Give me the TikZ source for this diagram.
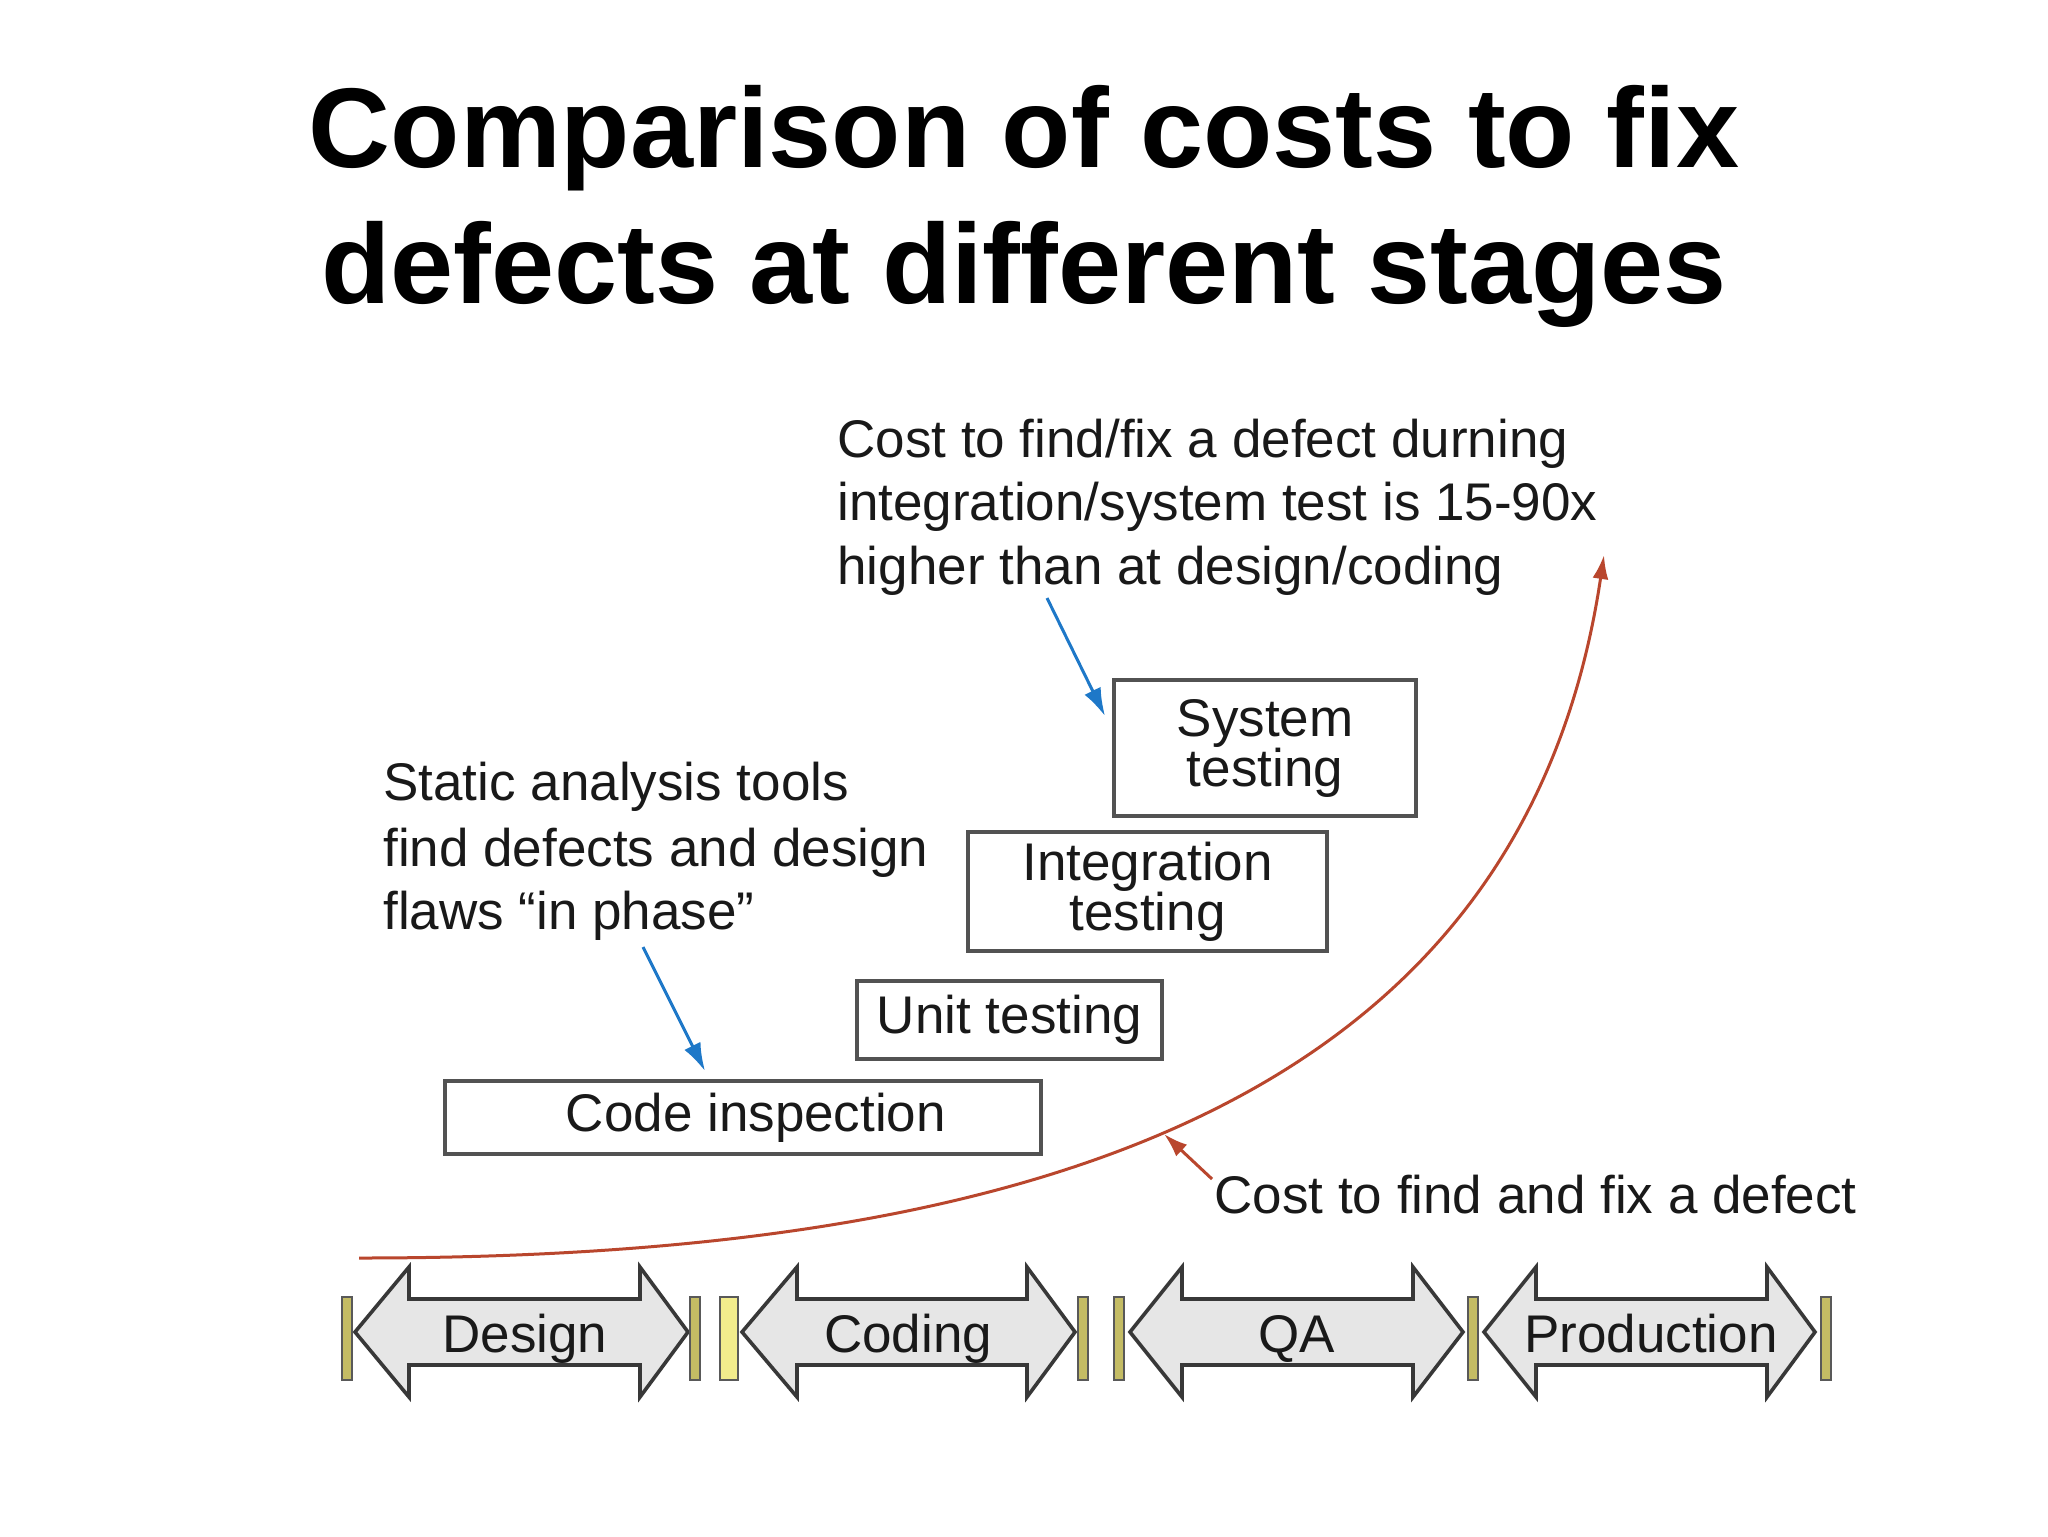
\documentclass[tikz,border=0pt]{standalone}
\usepackage{fontspec}
\setmainfont{Liberation Sans}
\usetikzlibrary{arrows.meta}
\definecolor{bluearr}{RGB}{30,120,200}
\definecolor{redcurve}{RGB}{185,70,45}
\definecolor{stagefill}{RGB}{230,230,230}
\definecolor{barolive}{RGB}{196,188,100}
\definecolor{barbright}{RGB}{242,236,140}
\definecolor{txt}{RGB}{25,25,25}
\tikzset{
  titletext/.style={font=\bfseries\fontsize{56.7}{68}\selectfont, anchor=base, inner sep=0pt},
  note/.style={font=\fontsize{26.5}{32}\selectfont, text=txt, anchor=base west, inner sep=0pt},
  stagebox/.style={draw=black!68, line width=2.2pt, fill=white, align=center,
    font=\fontsize{26.5}{25}\selectfont, text=txt, inner sep=0pt},
  stagearrow/.style={draw=black!78, line width=1.8pt, fill=stagefill, line join=miter},
  stagelabel/.style={font=\fontsize{26.5}{32}\selectfont, text=txt, anchor=base, inner sep=0pt},
  bluearrow/.style={draw=bluearr, line width=1.5pt, -{Latex[length=14pt,width=9pt]}},
  redarrow/.style={draw=redcurve, line width=1.5pt, -{Latex[length=12pt,width=8pt]}},
  bar/.style={draw=black!65, line width=1.1pt},
}
\begin{document}
\begin{tikzpicture}[x=0.5pt,y=-0.5pt]
\useasboundingbox[fill=white] (0,0) rectangle (2048,1536);

% title
\node[titletext] (title1) at (1024,167) {Comparison of costs to fix};
\node[titletext] (title2) at (1024,303) {defects at different stages};

% top annotation
\node[note] (topa) at (837,457) {Cost to find/fix a defect durning};
\node[note] (topb) at (837,520) {integration/system test is 15-90x};
\node[note] (topc) at (837,584) {higher than at design/coding};

% static analysis annotation
\node[note] (stata) at (383,800) {Static analysis tools};
\node[note] (statb) at (383,866) {find defects and design};
\node[note] (statc) at (383,929) {flaws “in phase”};

% activity boxes
\node[stagebox, minimum width=151pt, minimum height=68pt] (sys) at (1265,748) {System\\testing};
\node[stagebox, minimum width=179.5pt, minimum height=59.5pt] (integ) at (1147.5,891.5) {Integration\\testing};
\node[stagebox, minimum width=152.5pt, minimum height=39pt] (unit) at (1009.5,1020) {Unit testing};
\node[stagebox, minimum width=298pt, minimum height=36.5pt] (code) at (743,1117.5) {\hspace*{13pt}Code inspection};

% blue pointer arrows
\coordinate (topstart) at (1047,598);
\coordinate (topend) at (1105,716);
\coordinate (statstart) at (643,947);
\coordinate (statend) at (705,1071);
\draw[bluearrow] (topstart) -- (topend);
\draw[bluearrow] (statstart) -- (statend);

% red cost curve
\coordinate (curvestart) at (359,1258);
\coordinate (curveend) at (1604,555);
\draw[redarrow] (curvestart) .. controls (1000,1258) and (1520,1120) .. (curveend);

% cost label
\node[note] (costlbl) at (1214,1213) {Cost to find and fix a defect};
\coordinate (costpt) at (1164,1134);
\coordinate (coststart) at (1212,1179);
\draw[redarrow] (coststart) -- (costpt);

% stage double arrows
\foreach \lt/\lb/\rb/\rt in {355/409/640/688, 742/797/1027/1075, 1130/1182/1413/1463, 1484/1536/1767/1815}{
  \draw[stagearrow] (\lt,1332) -- (\lb,1267) -- (\lb,1299) -- (\rb,1299) -- (\rb,1267) -- (\rt,1332)
     -- (\rb,1397) -- (\rb,1365) -- (\lb,1365) -- (\lb,1397) -- cycle;
}
\node[stagelabel] (design) at (525,1352) {Design};
\node[stagelabel] (coding) at (908,1352) {Coding};
\node[stagelabel] (qa) at (1297,1352) {QA};
\node[stagelabel] (prod) at (1651,1352) {Production};

% separator bars
\foreach \bx/\bc in {347/barolive, 695/barolive, 1083/barolive, 1119/barolive, 1473/barolive, 1826/barolive}{
  \filldraw[bar, fill=\bc] (\bx-5,1297) rectangle (\bx+5,1380);
}
\filldraw[bar, fill=barbright] (720,1297) rectangle (738,1380);
\end{tikzpicture}
\end{document}
